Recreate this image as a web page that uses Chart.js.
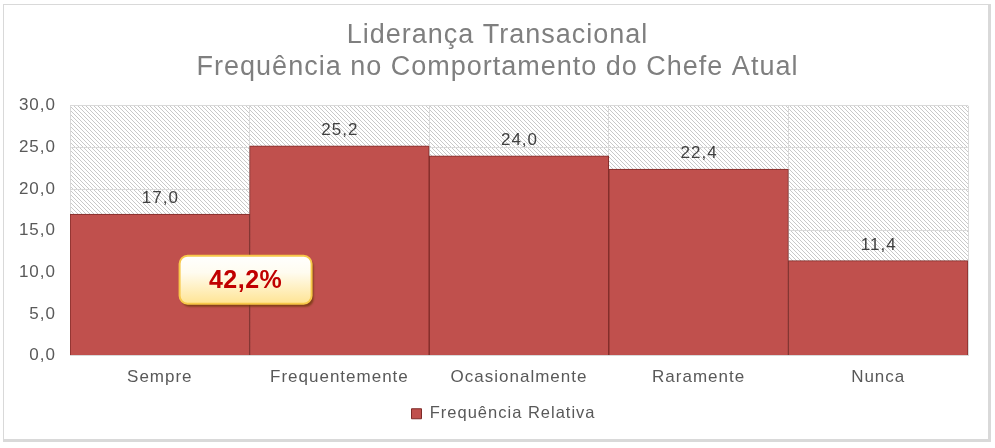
<!DOCTYPE html>
<html><head><meta charset="utf-8">
<script src="https://cdn.jsdelivr.net/npm/chart.js@4"></script>
<style>html,body{margin:0;padding:0;background:#fff}#wrap{width:995px;height:448px;position:relative}canvas{display:block}</style>
</head><body><div id="wrap"><canvas id="c" width="995" height="448"></canvas></div>
<script>
const categories = ['Sempre', 'Frequentemente', 'Ocasionalmente', 'Raramente', 'Nunca'];
const values = [17.0, 25.2, 24.0, 22.4, 11.4];
const seriesName = 'Frequência Relativa';
const titleLines = ['Liderança Transacional', 'Frequência no Comportamento do Chefe Atual'];
const yTicks = [0, 5, 10, 15, 20, 25, 30];
const calloutText = '42,2%';
const calloutValue = 9.1;

const FONT = "'Liberation Sans', Arial, sans-serif";
const fmt = v => v.toFixed(1).replace('.', ',');

function makeHatch() {
  const p = document.createElement('canvas');
  p.width = 8; p.height = 8;
  const g = p.getContext('2d');
  const img = g.createImageData(8, 8);
  for (let y = 0; y < 8; y++) for (let x = 0; x < 8; x++) {
    const i = (y * 8 + x) * 4;
    const on = ((x - y) % 4 + 4) % 4 === 0;
    const c = on ? 200 : 255;
    img.data[i] = c; img.data[i + 1] = c; img.data[i + 2] = c; img.data[i + 3] = 255;
  }
  g.putImageData(img, 0, 0);
  return p;
}

const bgPlugin = {
  id: 'bg',
  beforeUpdate(chart) {
    chart.ctx.letterSpacing = '1px';
  },
  afterLayout(chart) {
    if (chart.legend) { chart.legend.left += 8; chart.legend.right += 4; }
  },
  beforeDraw(chart) {
    const ctx = chart.ctx, a = chart.chartArea;
    ctx.save();
    ctx.fillStyle = '#fff';
    ctx.fillRect(0, 0, chart.width, chart.height);
    // frame
    ctx.fillStyle = '#D9D9D9';
    ctx.fillRect(3, 4, 987, 1);
    ctx.fillRect(3, 4, 1, 436);
    ctx.fillRect(988, 4, 3, 438);
    ctx.fillRect(3, 439, 988, 3);
    // hatch
    ctx.fillStyle = ctx.createPattern(makeHatch(), 'repeat');
    ctx.fillRect(a.left, a.top, a.right - a.left, a.bottom - a.top);
    ctx.restore();
    ctx.letterSpacing = '1px';
  }
};

const labelPlugin = {
  id: 'labels',
  afterDatasetsDraw(chart) {
    const ctx = chart.ctx;
    const meta = chart.getDatasetMeta(0);
    ctx.save();
    ctx.letterSpacing = '1px';
    ctx.font = '17px ' + FONT;
    ctx.fillStyle = '#404040';
    ctx.textAlign = 'center';
    ctx.textBaseline = 'alphabetic';
    meta.data.forEach((bar, i) => {
      ctx.fillText(fmt(values[i]), bar.x + 0.5, bar.y - 11);
    });
    // callout box
    const xs = chart.scales.x, ys = chart.scales.y;
    const cx = (xs.getPixelForValue(0) + xs.getPixelForValue(1)) / 2 - 4;
    const cy = ys.getPixelForValue(calloutValue);
    const w = 132, h = 48, r = 8;
    const x0 = cx - w / 2, y0 = cy - h / 2;
    ctx.beginPath();
    ctx.roundRect(x0, y0, w, h, r);
    ctx.shadowColor = 'rgba(110,55,10,0.75)';
    ctx.shadowOffsetX = 2; ctx.shadowOffsetY = 3; ctx.shadowBlur = 2;
    const grd = ctx.createLinearGradient(0, y0, 0, y0 + h);
    grd.addColorStop(0, '#FFFFFF');
    grd.addColorStop(0.35, '#FFFCF0');
    grd.addColorStop(1, '#FFE493');
    ctx.fillStyle = grd;
    ctx.fill();
    ctx.shadowColor = 'transparent';
    ctx.lineWidth = 2;
    ctx.strokeStyle = '#F7C84A';
    ctx.stroke();
    ctx.letterSpacing = '0.5px';
    ctx.font = 'bold 25px ' + FONT;
    ctx.fillStyle = '#C00000';
    ctx.textBaseline = 'middle';
    ctx.fillText(calloutText, cx, cy + 1);
    ctx.restore();
  }
};

new Chart(document.getElementById('c'), {
  type: 'bar',
  data: {
    labels: categories,
    datasets: [{
      label: seriesName,
      data: values,
      backgroundColor: '#C0504D',
      borderColor: '#7E2B28',
      borderWidth: 1,
      barPercentage: 1,
      categoryPercentage: 1
    }]
  },
  options: {
    responsive: false,
    animation: false,
    devicePixelRatio: 1,
    layout: { padding: { left: 0, right: 0, top: 0, bottom: 16 } },
    plugins: {
      title: {
        display: true,
        text: titleLines,
        color: '#7F7F7F',
        font: { family: FONT, size: 27, weight: 'normal', lineHeight: 1.2 },
        padding: { top: 19, bottom: 22 }
      },
      legend: {
        position: 'bottom',
        labels: {
          boxWidth: 10, boxHeight: 10,
          color: '#595959',
          font: { family: FONT, size: 16.5 },
          padding: 10
        }
      },
      tooltip: { enabled: false }
    },
    scales: {
      x: {
        grid: { color: '#D9D9D9', drawTicks: false, offset: true },
        border: { display: false },
        ticks: { color: '#595959', font: { family: FONT, size: 17 }, padding: 12 },
        afterFit(s) { s.height = 40; }
      },
      y: {
        min: 0, max: 30,
        afterBuildTicks(s) { s.ticks = yTicks.map(v => ({ value: v })); },
        grid: { color: '#D9D9D9', drawTicks: false },
        border: { display: false },
        ticks: { color: '#595959', font: { family: FONT, size: 17 }, padding: 14, callback: v => fmt(v) },
        afterFit(s) { s.width = 70; }
      },
      yRight: {
        type: 'linear',
        position: 'right',
        min: 0, max: 30,
        grid: { display: false, drawTicks: false },
        border: { display: false },
        ticks: { display: false },
        afterFit(s) { s.width = 27; }
      }
    }
  },
  plugins: [bgPlugin, labelPlugin]
});
</script></body></html>
